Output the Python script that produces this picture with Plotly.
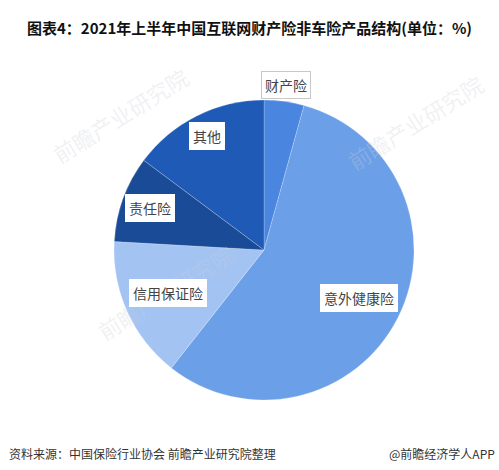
import math
import plotly.graph_objects as go

# 2021H1 internet non-auto property insurance product mix (%)
products = ['财产险', '意外健康险', '信用保证险', '责任险', '其他']
shares = [4.3, 56.3, 15.3, 9.3, 14.8]
colors = ['#4a86df', '#6b9fe7', '#a3c3f3', '#1a4b97', '#1f5bb6']

# how far out from the centre each label box sits (fraction of radius)
label_r = [1.11, 0.71, 0.70, 0.81, 0.85]

W, H = 499, 470
cx, cy = 264 / W, 1 - 250 / H
rx, ry = 150 / W, 150 / H

fig = go.Figure(go.Pie(
    labels=products, values=shares, sort=False, direction='clockwise',
    rotation=0, textinfo='none', hoverinfo='label+percent',
    marker=dict(colors=colors, line=dict(color='rgba(255,255,255,0.35)', width=0.6)),
    domain=dict(x=[cx - rx, cx + rx], y=[cy - ry, cy + ry]),
    showlegend=False,
))

annots = []

# faint watermark of the publisher
for wx, wy in [(120, 115), (165, 292), (415, 122)]:
    annots.append(dict(
        x=wx / W, y=1 - wy / H, xref='paper', yref='paper', showarrow=False,
        xanchor='center', yanchor='middle',
        text='前瞻产业研究院', textangle=-32,
        font=dict(size=22, color='rgba(205,208,215,0.3)', family='Noto Sans CJK SC'),
    ))

# label boxes placed at each slice's mid angle
cum = 0
total = sum(shares)
for name, v, r in zip(products, shares, label_r):
    mid = (cum + v / 2) / total * 2 * math.pi
    cum += v
    x = cx + r * rx * math.sin(mid)
    y = cy + r * ry * math.cos(mid)
    annots.append(dict(
        x=x, y=y, xref='paper', yref='paper', text=name, showarrow=False,
        xanchor='center', yanchor='middle',
        font=dict(size=14, color='#444444', family='Noto Sans CJK SC'),
        bgcolor='white', borderpad=3,
        bordercolor='#c8c8c8' if r > 1 else 'white', borderwidth=1,
    ))

annots.append(dict(
    x=0.5, y=1 - 27 / H, xref='paper', yref='paper', showarrow=False,
    xanchor='center', yanchor='middle',
    text='<b>图表4：2021年上半年中国互联网财产险非车险产品结构(单位：%)</b>',
    font=dict(size=15, color='#111111', family='Noto Sans CJK SC'),
))
annots.append(dict(
    x=7 / W, y=1 - 453 / H, xref='paper', yref='paper', showarrow=False,
    xanchor='left', yanchor='middle', text='资料来源：中国保险行业协会 前瞻产业研究院整理',
    font=dict(size=12, color='#333333', family='Noto Sans CJK SC'),
))
annots.append(dict(
    x=497 / W, y=1 - 453 / H, xref='paper', yref='paper', showarrow=False,
    xanchor='right', yanchor='middle', text='@前瞻经济学人APP',
    font=dict(size=12, color='#333333', family='Noto Sans CJK SC'),
))

fig.update_layout(
    width=W, height=H,
    margin=dict(l=0, r=0, t=0, b=0),
    paper_bgcolor='white', plot_bgcolor='white',
    annotations=annots,
)

fig.write_html("out.html", config={'displayModeBar': False},
               post_script="document.body.style.margin='0';")
